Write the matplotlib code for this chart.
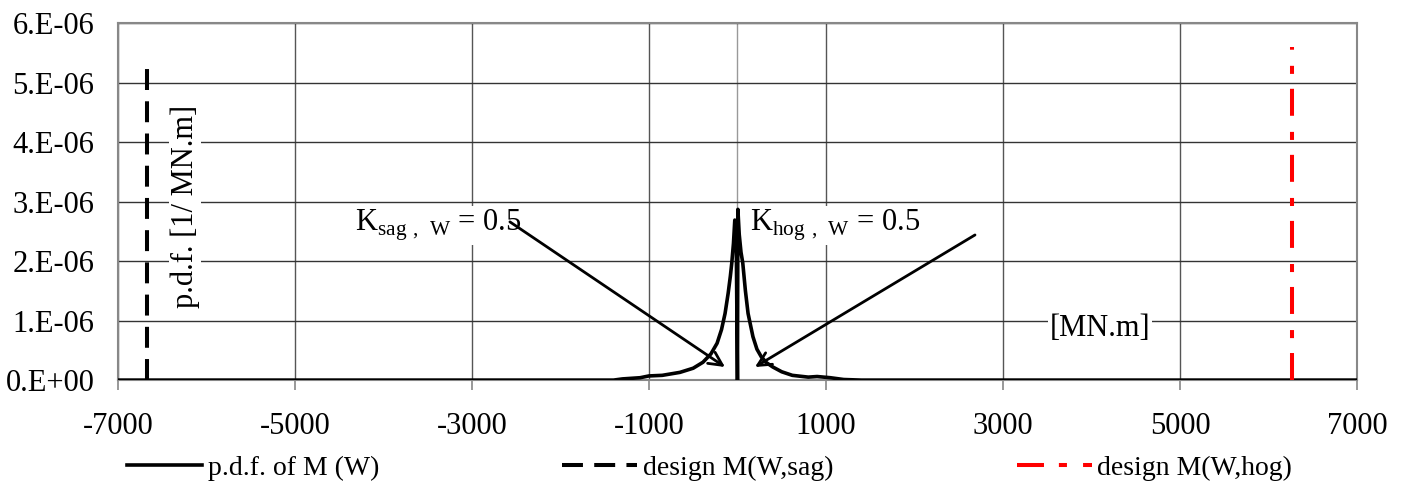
import numpy as np
import matplotlib.pyplot as plt

plt.rcParams['font.family'] = ['Liberation Serif', 'DejaVu Serif']

# p.d.f. of M (W)
pdf_x = [-7000, -2000, -1400, -1300, -1100, -1000, -850, -650, -500, -390, -300,
         -230, -180, -140, -105, -80, -64, -45, -30, -15, 0, 5, 20, 40, 60,
         90, 120, 175, 220, 270, 330, 400, 500, 620, 800, 900, 1050, 1200, 1400,
         2000, 7000]
pdf_y = [0, 0, 0, 0.02e-6, 0.04e-6, 0.07e-6, 0.08e-6, 0.13e-6, 0.20e-6, 0.30e-6, 0.44e-6,
         0.62e-6, 0.85e-6, 1.12e-6, 1.46e-6, 1.75e-6, 1.97e-6, 2.30e-6, 2.69e-6, 2.60e-6, 0, 2.87e-6, 2.45e-6, 2.15e-6, 1.97e-6,
         1.50e-6, 1.12e-6, 0.73e-6, 0.52e-6, 0.39e-6, 0.29e-6, 0.22e-6, 0.14e-6, 0.08e-6, 0.05e-6, 0.06e-6, 0.04e-6, 0.01e-6, 0,
         0, 0]

sag_x = [-6670, -6670]
sag_y = [0, 5.3e-6]
hog_x = [6270, 6270]
hog_y = [0, 5.6e-6]

xticks = [-7000, -5000, -3000, -1000, 1000, 3000, 5000, 7000]
yticks = [0, 1e-6, 2e-6, 3e-6, 4e-6, 5e-6, 6e-6]
ylabels = ['0.E+00', '1.E-06', '2.E-06', '3.E-06', '4.E-06', '5.E-06', '6.E-06']

fig = plt.figure(figsize=(14.04, 4.93), dpi=100)
ax = fig.add_axes([0.084, 0.229, 0.8825, 0.724])

ax.set_xlim(-7000, 7000)
ax.set_ylim(0, 6e-6)
ax.set_xticks(xticks)
ax.set_xticklabels([str(v) for v in xticks])
ax.set_yticks(yticks)
ax.set_yticklabels(ylabels)
ax.tick_params(labelsize=22)
ax.tick_params(axis='y', length=0, pad=17)
ax.tick_params(axis='x', length=7, width=1.2, color='#888888', pad=16)

ax.grid(axis='y', color='#333333', lw=1.0, zorder=0)
ax.grid(axis='x', color='#555555', lw=1.0, zorder=0)
ax.axvline(0, color='#999999', lw=1.0, zorder=1)
for s in ax.spines.values():
    s.set_color('#888888')
    s.set_linewidth(1.5)

ax.plot(pdf_x, pdf_y, color='black', lw=2.6, zorder=4, label='p.d.f. of M (W)')
ax.plot(sag_x, sag_y, color='black', lw=2.9, linestyle=(0, (5.2, 2.8)), zorder=4,
        label='design M(W,sag)')
ax.plot(hog_x, hog_y, color='red', lw=2.9, linestyle=(0, (6.7, 3.7, 2.0, 4.0)), zorder=4,
        label='design M(W,hog)')

box = dict(facecolor='white', edgecolor='none', pad=1)
ax.text(-6243, 2.92e-6, 'p.d.f. [1/ MN.m]', rotation=90, ha='center', va='center',
        fontsize=22, bbox=box, zorder=3)
ax.text(4096, 0.87e-6, '[MN.m]', ha='center', va='center', fontsize=22, bbox=box, zorder=3)

ax.text(-3384, 2.6e-6, r'K$_{\mathregular{sag\ ,\ W}}$ = 0.5', ha='center', va='center',
        fontsize=22, bbox=box, zorder=3)
ax.text(1100, 2.6e-6, r'K$_{\mathregular{hog\ ,\ W}}$ = 0.5', ha='center', va='center',
        fontsize=22, bbox=box, zorder=3)

arrow = dict(arrowstyle='->', color='black', lw=2, mutation_scale=24, shrinkA=0, shrinkB=0)
ax.annotate('', xy=(-141, 0.22e-6), xytext=(-2571, 2.66e-6), arrowprops=arrow, zorder=5)
ax.annotate('', xy=(198, 0.22e-6), xytext=(2684, 2.44e-6), arrowprops=arrow, zorder=5)

fig.legend(loc='center left', bbox_to_anchor=(127 / 1404, 0.051), ncol=3, frameon=False,
           fontsize=20, columnspacing=6.6, handlelength=2.7, handletextpad=0.2,
           borderpad=0, borderaxespad=0)

fig.savefig('out.png', dpi=100)
